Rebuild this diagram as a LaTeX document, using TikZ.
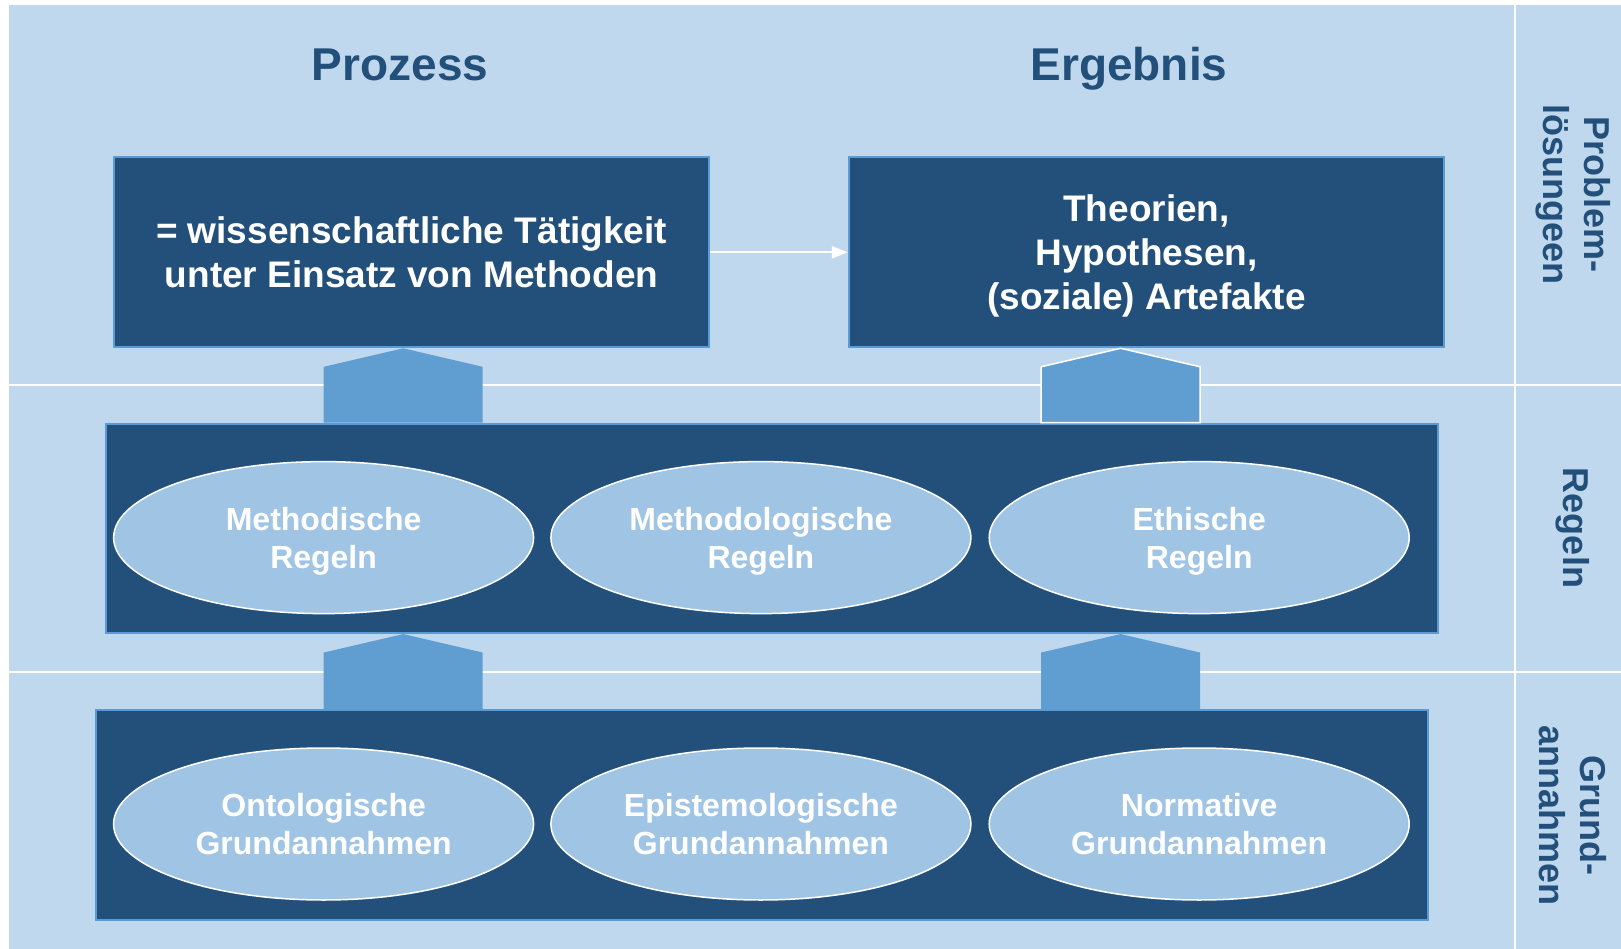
\documentclass[tikz,border=0pt]{standalone}
\usepackage{fontspec}
\setmainfont{Liberation Sans}
\usetikzlibrary{shapes.geometric,arrows.meta,calc}
\definecolor{hgrund}{HTML}{C0D8EE}
\definecolor{dunkel}{HTML}{23507A}
\definecolor{rand}{HTML}{5B9BD5}
\definecolor{pfeilblau}{HTML}{609ED2}
\definecolor{ellblau}{HTML}{A0C4E3}
\tikzstyle{titel} = [anchor=base, text=dunkel, font=\fontsize{46}{52}\selectfont\bfseries]
\tikzstyle{kasten} = [fill=dunkel, draw=rand, line width=2pt, text=white, align=center, inner sep=0pt, text depth=0pt, font=\fontsize{37}{44}\selectfont\bfseries]
\tikzstyle{regel} = [ellipse, fill=ellblau, draw=white, line width=1.5pt, minimum width=420pt, minimum height=152pt, inner sep=0pt, text depth=0pt, text=white, align=center, font=\fontsize{32}{38}\selectfont\bfseries]
\tikzstyle{seite} = [rotate=-90, text=dunkel, align=center, font=\fontsize{36}{41}\selectfont\bfseries]
\tikzstyle{pfeil} = [fill=pfeilblau, draw=none]
\tikzstyle{trenn} = [draw=white, line width=2pt]
\tikzstyle{verbind} = [draw=white, line width=2pt, -{Triangle[length=16pt,width=12pt]}]
\newcommand{\hauspfeil}[4][]{%
	\filldraw[pfeil,#1] ($(#2.north -| #4)+(-79.5,0)$) -- ($(#3.south -| #4)+(-79.5,18.5)$) -- (#3.south -| #4) -- ($(#3.south -| #4)+(79.5,18.5)$) -- ($(#2.north -| #4)+(79.5,0)$) -- cycle;}

\begin{document}
\begin{tikzpicture}[x=1pt, y=-1pt]
		\useasboundingbox (0,0) rectangle (1621,949);
		\fill[hgrund] (9,5) rectangle (1621,949);
		\draw[trenn] (9,385.3) -- (1621,385.3);
		\draw[trenn] (9,671.5) -- (1621,671.5);
		\draw[trenn] (1515,5) -- (1515,949);

		\node[titel] (prozess) at (400,80.5) {Prozess};
		\node[titel] (ergebnis) at (1129,80.5) {Ergebnis};

		\node[kasten, minimum width=595.5pt, minimum height=190pt] (prozbox) at (411.5,252.3)
			{= wissenschaftliche Tätigkeit\\unter Einsatz von Methoden};
		\node[kasten, minimum width=595.5pt, minimum height=190pt] (ergbox) at (1146.5,252.3)
			{Theorien,\\Hypothesen,\\(soziale) Artefakte};
		\draw[verbind] (prozbox.east) -- (ergbox.west);

		\node[kasten, minimum width=1332pt, minimum height=209.5pt] (regelbox) at (771.5,528.3) {};
		\node[kasten, minimum width=1331.5pt, minimum height=209.5pt] (grundbox) at (761.9,814.8) {};

		\node[regel] (mreg) at (323.6,537.6) {Methodische\\Regeln};
		\node[regel] (mlreg) at (760.9,537.6) {Methodologische\\Regeln};
		\node[regel] (ereg) at (1199.2,537.6) {Ethische\\Regeln};

		\node[regel] (ogr) at (323.6,824) {Ontologische\\Grundannahmen};
		\node[regel] (egr) at (760.9,824) {Epistemologische\\Grundannahmen};
		\node[regel] (ngr) at (1199.2,824) {Normative\\Grundannahmen};

		\coordinate (links) at (403.2,0);
		\coordinate (rechts) at (1120.6,0);
		\hauspfeil{regelbox}{prozbox}{links}
		\hauspfeil[draw=white, line width=1.5pt]{regelbox}{ergbox}{rechts}
		\hauspfeil{grundbox}{regelbox}{links}
		\hauspfeil{grundbox}{regelbox}{rechts}

		\node[seite] (loesung) at (1573,194.5) {Problem-\\lösungeen};
		\node[seite] (regeln) at (1573,528) {Regeln};
		\node[seite] (grund) at (1573,815.7) {Grund-\\annahmen};
\end{tikzpicture}
\end{document}
